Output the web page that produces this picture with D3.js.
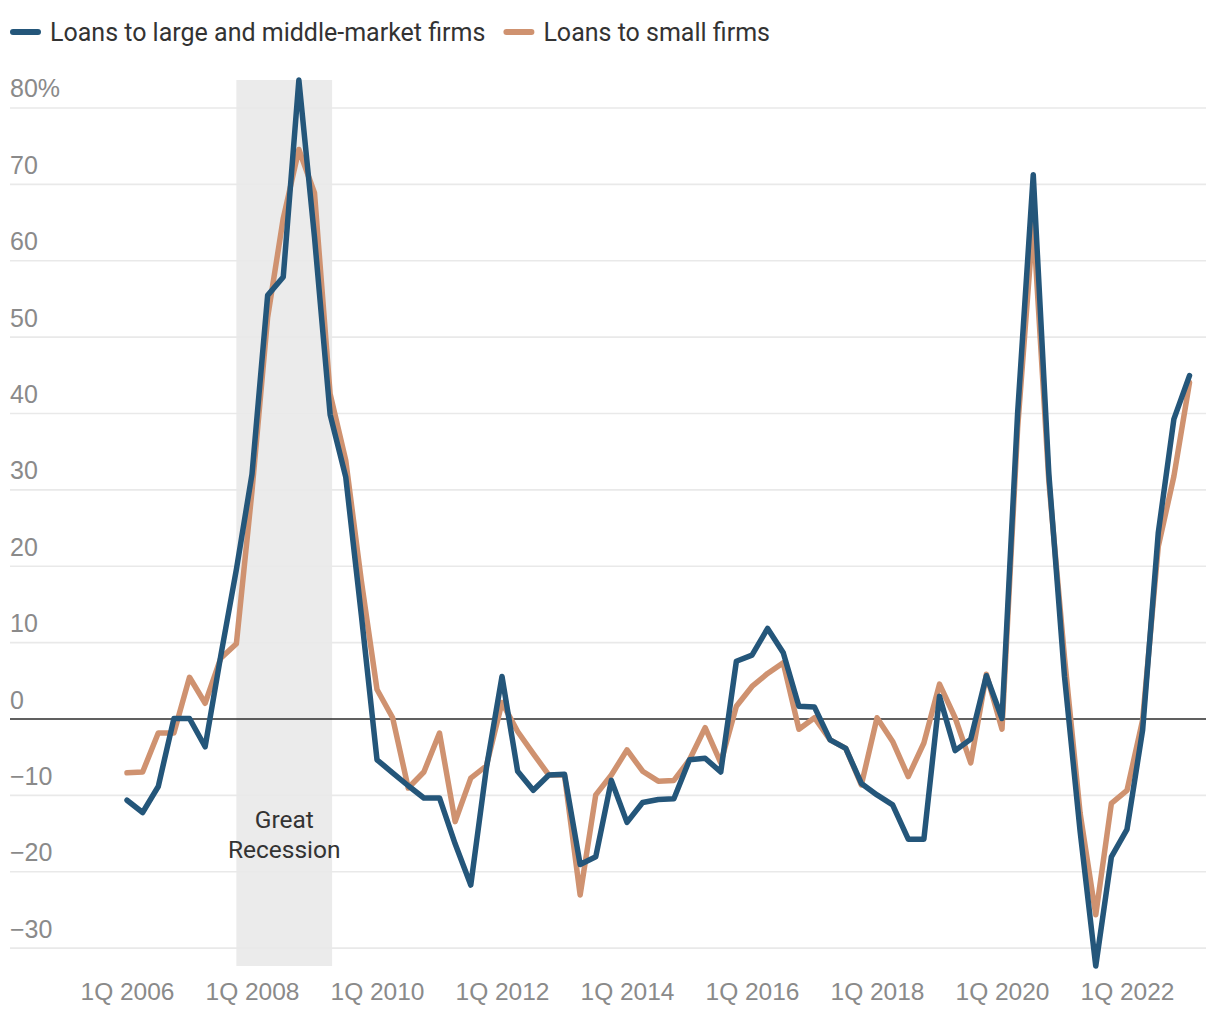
<!DOCTYPE html>
<html>
<head>
<meta charset="utf-8">
<script src="https://cdn.jsdelivr.net/npm/d3@7"></script>
<style>
  html, body { margin: 0; padding: 0; background: #fff; }
  svg { display: block; font-family: Roboto, "Noto Sans", sans-serif; }
</style>
</head>
<body>
<svg id="chart" width="1220" height="1020"></svg>
<script>
// ---- Data ----
const years = d3.range(2006, 2024);
const quarters = [];
years.forEach(y => { for (let q = 1; q <= 4; q++) quarters.push(q + "Q " + y); });
const periods = quarters.slice(0, 69); // 1Q 2006 .. 1Q 2023

const largeFirms = [
  -10.7, -12.3, -8.9, 0, 0, -3.7, 8.2, 19.5,
  32.0, 55.4, 57.8, 83.6, 63, 39.8, 31.6, 13.5,
  -5.4, -7.1, -8.8, -10.4, -10.4, -16.4, -21.8, -6.5,
  5.5, -6.9, -9.4, -7.4, -7.3, -19.1, -18.1, -8.1,
  -13.6, -11.0, -10.6, -10.5, -5.4, -5.2, -7.0, 7.5,
  8.3, 11.8, 8.6, 1.6, 1.5, -2.8, -3.9, -8.5,
  -10.0, -11.3, -15.8, -15.8, 2.9, -4.2, -2.7, 5.6,
  0, 40, 71.2, 32, 5.5, -14.8, -32.4, -18.1,
  -14.5, -1.5, 24.3, 39.2, 44.9
];
const smallFirms = [
  -7.1, -7.0, -1.9, -1.9, 5.4, 2.0, 7.9, 9.8,
  29.8, 52.5, 65.5, 74.5, 68.8, 42.5, 33.8, 18,
  3.8, 0.1, -9.1, -7.0, -1.9, -13.5, -7.8, -6.2,
  2.1, -1.7, -4.6, -7.4, -7.4, -23.1, -10.0, -7.4,
  -4.1, -6.9, -8.2, -8.1, -5.4, -1.2, -5.8, 1.6,
  4.2, 5.9, 7.3, -1.4, 0.1, -2.8, -3.9, -8.7,
  0.1, -3.0, -7.6, -3.2, 4.5, 0.1, -5.8, 5.8,
  -1.4, 38, 65, 31, 8, -12.4, -25.7, -11.1,
  -9.4, -0.2, 22.5, 31.7, 44.0
];
const seriesNames = ["Loans to large and middle-market firms", "Loans to small firms"];
const seriesColors = ["#24567a", "#cf9270"];
const yTicks = [-30, -20, -10, 0, 10, 20, 30, 40, 50, 60, 70, 80];
const xTickLabels = ["1Q 2006", "1Q 2008", "1Q 2010", "1Q 2012", "1Q 2014", "1Q 2016", "1Q 2018", "1Q 2020", "1Q 2022"];
const recession = { start: "4Q 2007", end: "2Q 2009", label: ["Great", "Recession"] };

// ---- Layout ----
const svg = d3.select("#chart");
const gridLeft = 10, gridRight = 1206;
const x = d3.scalePoint().domain(periods).range([127, 1189.5]);
const allVals = largeFirms.concat(smallFirms);
const y = d3.scaleLinear().domain(d3.extent(allVals)).range([966, 80]);

// Recession band
const bx0 = x(recession.start), bx1 = x(recession.end) + 2;
svg.append("rect")
  .attr("x", bx0).attr("y", y.range()[1])
  .attr("width", bx1 - bx0).attr("height", y.range()[0] - y.range()[1])
  .attr("fill", "#ebebeb");

// Grid lines
const yAxis = d3.axisLeft(y).tickValues(yTicks).tickSize(-(gridRight - gridLeft))
  .tickFormat(d => (d === 80 ? "80%" : (d < 0 ? "\u2212" + Math.abs(d) : d)));
const gy = svg.append("g").attr("transform", `translate(${gridLeft},0)`).call(yAxis);
gy.select(".domain").remove();
gy.selectAll(".tick line")
  .attr("stroke", d => d === 0 ? "#2b2b2b" : "#e9e9e9")
  .attr("stroke-width", 1.6);
gy.selectAll(".tick text")
  .attr("x", 0).attr("dy", "-0.42em")
  .attr("text-anchor", "start")
  .attr("fill", "#8a8a8a")
  .style("font-size", "25px");
gy.selectAll(".tick").filter(d => d === 0).raise();

// Band label
const bandLabel = svg.append("text")
  .attr("text-anchor", "middle")
  .attr("fill", "#333")
  .style("font-size", "24.5px");
recession.label.forEach((t, i) => {
  bandLabel.append("tspan").attr("x", (bx0 + bx1) / 2).attr("y", 828 + i * 30).text(t);
});

// X axis labels
const xAxis = d3.axisBottom(x).tickValues(xTickLabels).tickSize(0).tickPadding(0);
const gx = svg.append("g").attr("transform", "translate(0,1000)").call(xAxis);
gx.select(".domain").remove();
gx.selectAll(".tick text")
  .attr("y", 0).attr("dy", 0)
  .attr("fill", "#8a8a8a")
  .style("font-size", "24.5px");

// Lines
const line = d3.line().x((d, i) => x(periods[i])).y(d => y(d));
[[smallFirms, 1], [largeFirms, 0]].forEach(([s, idx]) => {
  svg.append("path")
    .datum(s)
    .attr("d", line)
    .attr("fill", "none")
    .attr("stroke", seriesColors[idx])
    .attr("stroke-width", 5.5)
    .attr("stroke-linejoin", "round")
    .attr("stroke-linecap", "round");
});

// Legend
const legend = svg.append("g").attr("transform", "translate(10,32)");
let lx = 0;
seriesNames.forEach((name, i) => {
  const g = legend.append("g").attr("transform", `translate(${lx},0)`);
  g.append("line").attr("x1", 3).attr("x2", 28).attr("y1", 0).attr("y2", 0)
    .attr("stroke", seriesColors[i]).attr("stroke-width", 6).attr("stroke-linecap", "round");
  const t = g.append("text").attr("x", 40).attr("y", 9)
    .attr("fill", "#333").style("font-size", "25px").text(name);
  lx += 40 + t.node().getComputedTextLength() + 18;
});
</script>
</body>
</html>
